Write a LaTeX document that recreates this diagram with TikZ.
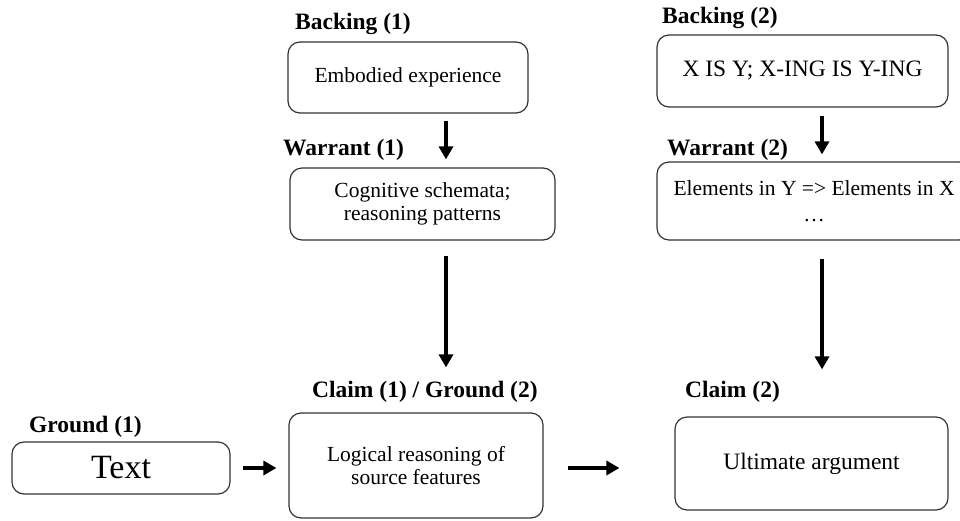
\documentclass[tikz,border=0pt]{standalone}
\usepackage{fontspec}
\setmainfont{Liberation Serif}
\usetikzlibrary{arrows.meta}
\begin{document}
\begin{tikzpicture}[x=1pt, y=-1pt,
    box/.style={draw=black!80, line width=1.2pt, rounded corners=12pt, align=center, inner sep=0pt,
                font=\fontsize{21.5}{23}\selectfont},
    tag/.style={anchor=west, inner sep=0pt, font=\fontsize{23.5}{26}\selectfont\bfseries},
    flow/.style={line width=4pt, -{Triangle[length=13pt, width=14pt]}}]
    \useasboundingbox (0,0) rectangle (960,520);
    \node [box, minimum width=240, minimum height=71] (backA) at (408,77.5) {Embodied experience};
    \node [box, minimum width=265, minimum height=72] (warrA) at (422.5,204) {Cognitive schemata;\\reasoning patterns};
    \node [box, minimum width=254, minimum height=105] (claimA) at (416,465.5) {Logical reasoning of\\source features};
    \node [box, minimum width=218, minimum height=52, font=\fontsize{34}{36}\selectfont] (groundA) at (121,468) {Text};
    \node [box, minimum width=291, minimum height=72, font=\fontsize{23.5}{25}\selectfont] (backB) at (802.5,71) {X IS Y; X-ING IS Y-ING};
    \node [box, minimum width=314, minimum height=78] (warrB) at (814,201) {Elements in Y => Elements in X\\[3pt]\ldots};
    \node [box, minimum width=273, minimum height=93, font=\fontsize{23.5}{25}\selectfont] (claimB) at (811.5,463.5) {Ultimate argument};
    \node [tag] (tBackA) at (295,24) {Backing (1)};
    \node [tag] (tWarrA) at (283,150) {Warrant (1)};
    \node [tag] (tClaimA) at (312,392) {Claim (1) / Ground (2)};
    \node [tag] (tGroundA) at (29,427) {Ground (1)};
    \node [tag] (tBackB) at (662,18) {Backing (2)};
    \node [tag] (tWarrB) at (667,150) {Warrant (2)};
    \node [tag] (tClaimB) at (685,392) {Claim (2)};
    \coordinate (colA) at (446,0);
    \coordinate (colB) at (822,0);
    \draw [flow, shorten <=7pt, shorten >=8pt] (backA.south -| colA) -- (warrA.north -| colA);
    \draw [flow, shorten <=15pt, shorten >=45pt] (warrA.south -| colA) -- (claimA.north -| colA);
    \draw [flow, shorten <=8pt, shorten >=7pt] (backB.south -| colB) -- (warrB.north -| colB);
    \draw [flow, shorten <=18pt, shorten >=47pt] (warrB.south -| colB) -- (claimB.north -| colB);
    \draw [flow, shorten <=12pt, shorten >=12pt] (groundA.east) -- (groundA.east -| claimA.west);
    \draw [flow, shorten <=24pt, shorten >=55pt] (claimA.east |- groundA) -- (groundA -| claimB.west);
\end{tikzpicture}
\end{document}
